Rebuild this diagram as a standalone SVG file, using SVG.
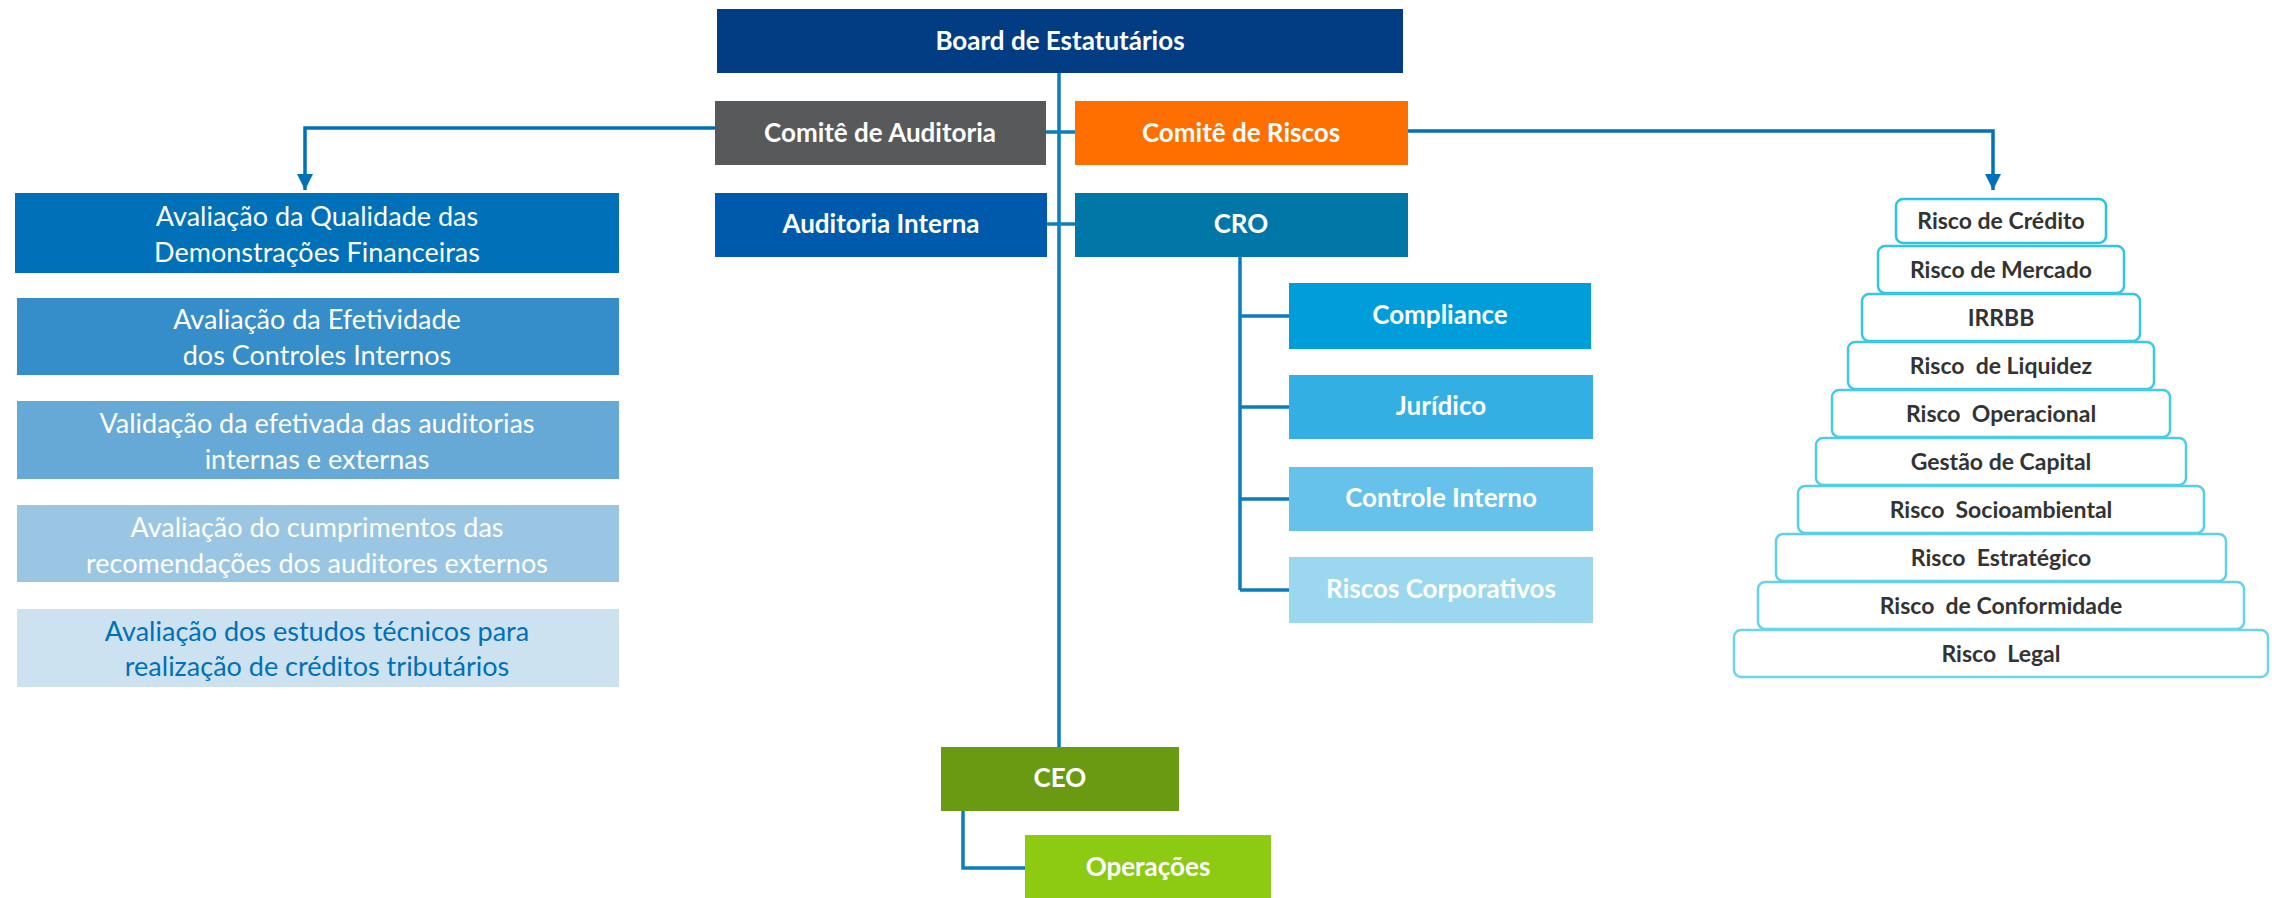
<svg xmlns="http://www.w3.org/2000/svg" width="2280" height="898" viewBox="0 0 2280 898">
<defs>
<style>
.t{font-family:Lato,"Open Sans","Liberation Sans",sans-serif;text-anchor:middle;white-space:pre;}
.b{font-weight:700;font-size:26px;fill:#ffffff;}
.l{font-weight:400;font-size:27px;fill:#ffffff;}
.p{font-weight:700;font-size:23px;fill:#333333;}
.con{fill:none;stroke:#0a7dbf;stroke-width:3.5;}
.arr{fill:none;stroke:#0070b8;stroke-width:3.5;}
.pr{fill:#ffffff;stroke-width:2.5;}
</style>
<marker id="ah" viewBox="0 0 16 16" refX="16" refY="8" markerWidth="16" markerHeight="16" markerUnits="userSpaceOnUse" orient="auto">
<path d="M0,0 L16,8 L0,16 Z" fill="#0070b8"/>
</marker>
</defs>
<rect width="2280" height="898" fill="#ffffff"/>

<g id="connectors">
<path class="con" d="M1059,73 V747"/>
<path class="con" d="M1046,132 H1075 M1046,224 H1075"/>
<path class="con" d="M1240,257 V590 M1240,316 H1289 M1240,407 H1289 M1240,499 H1289 M1240,590 H1289"/>
<path class="con" d="M963,811 V868 H1025"/>
<path class="arr" d="M715,128 H305 V190" marker-end="url(#ah)"/>
<path class="arr" d="M1408,131 H1993 V190" marker-end="url(#ah)"/>
</g>

<g id="board"><rect x="717" y="9" width="686" height="64" fill="#023d84"/><text class="t b" x="1060" y="50">Board de Estatutários</text></g>
<g id="comite-auditoria"><rect x="715" y="101" width="331" height="64" fill="#58595b"/><text class="t b" x="880" y="142">Comitê de Auditoria</text></g>
<g id="comite-riscos"><rect x="1075" y="101" width="333" height="64" fill="#ff6f00"/><text class="t b" x="1241" y="142">Comitê de Riscos</text></g>
<g id="auditoria-interna"><rect x="715" y="193" width="332" height="64" fill="#005aab"/><text class="t b" x="881" y="233">Auditoria Interna</text></g>
<g id="cro"><rect x="1075" y="193" width="333" height="64" fill="#0077a6"/><text class="t b" x="1241" y="233">CRO</text></g>

<g id="compliance"><rect x="1289" y="283" width="302" height="66" fill="#009ddb"/><text class="t b" x="1440" y="324">Compliance</text></g>
<g id="juridico"><rect x="1289" y="375" width="304" height="64" fill="#33afe3"/><text class="t b" x="1441" y="415">Jurídico</text></g>
<g id="controle-interno"><rect x="1289" y="467" width="304" height="64" fill="#66c2ea"/><text class="t b" x="1441" y="507">Controle Interno</text></g>
<g id="riscos-corporativos"><rect x="1289" y="557" width="304" height="66" fill="#9bd8f0"/><text class="t b" x="1441" y="598">Riscos Corporativos</text></g>

<g id="ceo"><rect x="941" y="747" width="238" height="64" fill="#6a9a12"/><text class="t b" x="1060" y="787">CEO</text></g>
<g id="operacoes"><rect x="1025" y="835" width="246" height="63" fill="#8dcb13"/><text class="t b" x="1148" y="876">Operações</text></g>

<g id="aval-1"><rect x="15" y="193" width="604" height="80" fill="#0070b9"/><text class="t l" x="317" y="226">Avaliação da Qualidade das</text><text class="t l" x="317" y="262">Demonstrações Financeiras</text></g>
<g id="aval-2"><rect x="17" y="298" width="602" height="77" fill="#358dc9"/><text class="t l" x="317" y="329">Avaliação da Efetividade</text><text class="t l" x="317" y="365">dos Controles Internos</text></g>
<g id="aval-3"><rect x="17" y="401" width="602" height="78" fill="#66a8d6"/><text class="t l" x="317" y="433">Validação da efetivada das auditorias</text><text class="t l" x="317" y="469">internas e externas</text></g>
<g id="aval-4"><rect x="17" y="505" width="602" height="77" fill="#9ac6e4"/><text class="t l" x="317" y="537">Avaliação do cumprimentos das</text><text class="t l" x="317" y="573">recomendações dos auditores externos</text></g>
<g id="aval-5"><rect x="17" y="609" width="602" height="78" fill="#cde2f1"/><text class="t l" x="317" y="641" style="fill:#0070b8">Avaliação dos estudos técnicos para</text><text class="t l" x="317" y="676" style="fill:#0070b8">realização de créditos tributários</text></g>

<g id="risco-credito"><rect class="pr" x="1896" y="199" width="210" height="44" rx="7" stroke="#2ac3e3"/><text class="t p" x="2001" y="229">Risco de Crédito</text></g>
<g id="risco-mercado"><rect class="pr" x="1878" y="246" width="246" height="47" rx="7" stroke="#2fc5e4"/><text class="t p" x="2001" y="278">Risco de Mercado</text></g>
<g id="irrbb"><rect class="pr" x="1862" y="294" width="278" height="47" rx="7" stroke="#36c7e5"/><text class="t p" x="2001" y="326">IRRBB</text></g>
<g id="risco-liquidez"><rect class="pr" x="1848" y="342" width="306" height="47" rx="7" stroke="#3dc9e6"/><text class="t p" x="2001" y="374">Risco  de Liquidez</text></g>
<g id="risco-operacional"><rect class="pr" x="1832" y="390" width="338" height="47" rx="7" stroke="#44cbe6"/><text class="t p" x="2001" y="422">Risco  Operacional</text></g>
<g id="gestao-capital"><rect class="pr" x="1816" y="438" width="370" height="47" rx="7" stroke="#4ccde7"/><text class="t p" x="2001" y="470">Gestão de Capital</text></g>
<g id="risco-socioambiental"><rect class="pr" x="1798" y="486" width="406" height="47" rx="7" stroke="#54cfe8"/><text class="t p" x="2001" y="518">Risco  Socioambiental</text></g>
<g id="risco-estrategico"><rect class="pr" x="1776" y="534" width="450" height="47" rx="7" stroke="#5cd1e9"/><text class="t p" x="2001" y="566">Risco  Estratégico</text></g>
<g id="risco-conformidade"><rect class="pr" x="1758" y="582" width="486" height="47" rx="7" stroke="#64d3ea"/><text class="t p" x="2001" y="614">Risco  de Conformidade</text></g>
<g id="risco-legal"><rect class="pr" x="1734" y="630" width="534" height="47" rx="7" stroke="#6cd5eb"/><text class="t p" x="2001" y="662">Risco  Legal</text></g>
</svg>
